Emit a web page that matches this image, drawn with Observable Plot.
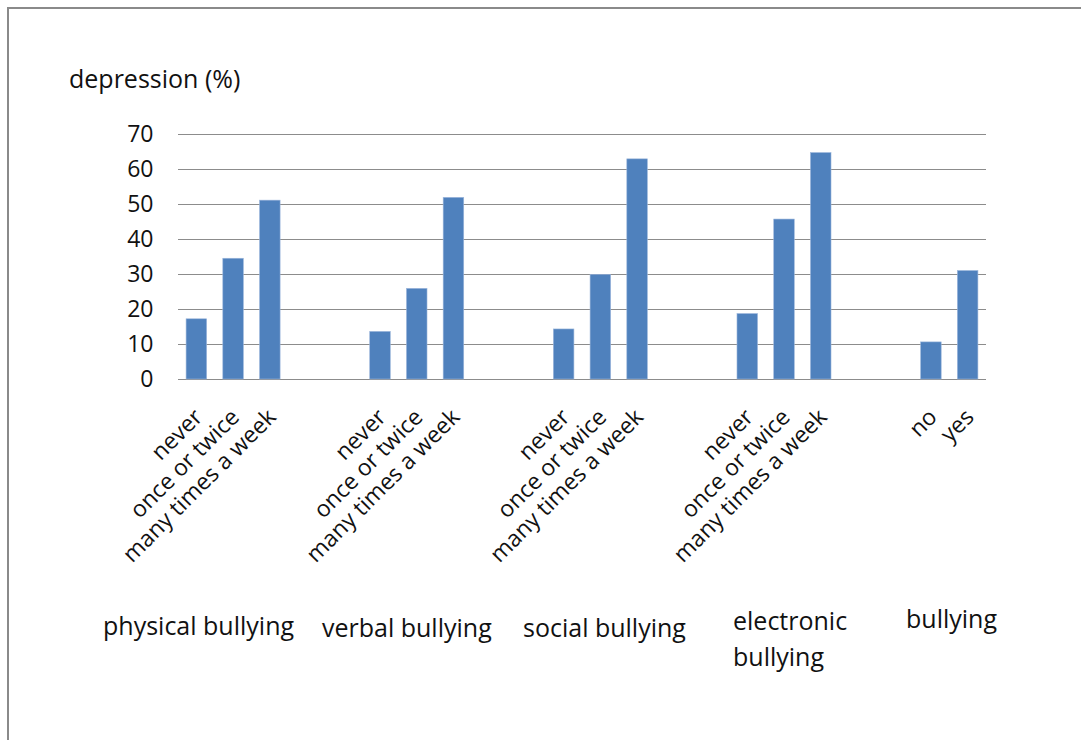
<!DOCTYPE html>
<html>
<head>
<meta charset="utf-8">
<script src="https://cdn.jsdelivr.net/npm/d3@7"></script>
<script src="https://cdn.jsdelivr.net/npm/@observablehq/plot@0.6"></script>
<style>
  html, body { margin: 0; padding: 0; background: #fff; }
  #wrap { position: relative; width: 1081px; height: 740px; overflow: hidden; font-family: "Open Sans", sans-serif; color: #111; }
  #frame { position: absolute; left: 7px; top: 7px; right: -10px; bottom: -10px; border-top: 2px solid #8a8a8a; border-left: 2px solid #8a8a8a; }
  #chart { position: absolute; left: 0; top: 0; }
  .lbl { position: absolute; font-size: 25px; line-height: 36px; white-space: nowrap; }
</style>
</head>
<body>
<div id="wrap">
  <div id="frame"></div>
  <div id="chart"></div>
</div>
<script>
// Share of students with depression (%) by type and frequency of bullying
const groups = ["physical bullying", "verbal bullying", "social bullying", "electronic bullying", "bullying"];
const frequency = ["never", "once or twice", "many times a week"];
const anyBullying = ["no", "yes"];

const physical = [17.2, 34.5, 51.1];
const verbal = [13.6, 25.9, 51.9];
const social = [14.3, 29.9, 62.9];
const electronic = [18.7, 45.7, 64.7];
const bullying = [10.6, 31.0];

const yTicks = [0, 10, 20, 30, 40, 50, 60, 70];

// Build one row per bar, plus two empty slots between groups on the category axis
const series = [
  {group: groups[0], levels: frequency, values: physical},
  {group: groups[1], levels: frequency, values: verbal},
  {group: groups[2], levels: frequency, values: social},
  {group: groups[3], levels: frequency, values: electronic},
  {group: groups[4], levels: anyBullying, values: bullying}
];
const rows = [];
const domain = [];
series.forEach((s, gi) => {
  s.levels.forEach((level, i) => {
    const key = `${s.group}|${level}`;
    rows.push({key, group: s.group, level, value: s.values[i]});
    domain.push(key);
  });
  if (gi < series.length - 1) domain.push(`gap${gi}a`, `gap${gi}b`);
});

const chart = Plot.plot({
  width: 1081,
  height: 740,
  marginLeft: 178,
  marginRight: 95,
  marginTop: 134,
  marginBottom: 361,
  style: {fontFamily: "'Open Sans', sans-serif", fontSize: "23px", color: "#111", background: "transparent"},
  x: {domain, paddingInner: 0.44, paddingOuter: 0.22, round: false, axis: null},
  y: {domain: [0, 70], ticks: yTicks, axis: null},
  marks: [
    Plot.ruleY(yTicks, {stroke: "#8c8c8c", strokeWidth: 1.2}),
    Plot.axisY({ticks: yTicks, tickSize: 0, tickPadding: 25, fontSize: 23, label: null}),
    Plot.barY(rows, {x: "key", y: "value", fill: "#4F81BD", stroke: "#9db7dc", strokeWidth: 0.6}),
    Plot.text(rows, {
      x: "key", text: "level", frameAnchor: "bottom",
      rotate: -45, textAnchor: "end", dx: 7, dy: 39, fontSize: 23, fill: "#111"
    })
  ]
});
document.getElementById("chart").appendChild(chart);

// Axis title and group captions
const wrap = document.getElementById("wrap");
function label(text, left, top) {
  const d = document.createElement("div");
  d.className = "lbl";
  d.style.left = left + "px";
  d.style.top = top + "px";
  d.innerHTML = text;
  wrap.appendChild(d);
}
label("depression (%)", 69, 60);
label(groups[0], 103, 607);
label(groups[1], 322, 609);
label(groups[2], 523, 609);
label("electronic<br>bullying", 733, 602);
label(groups[4], 906, 600);
</script>
</body>
</html>
